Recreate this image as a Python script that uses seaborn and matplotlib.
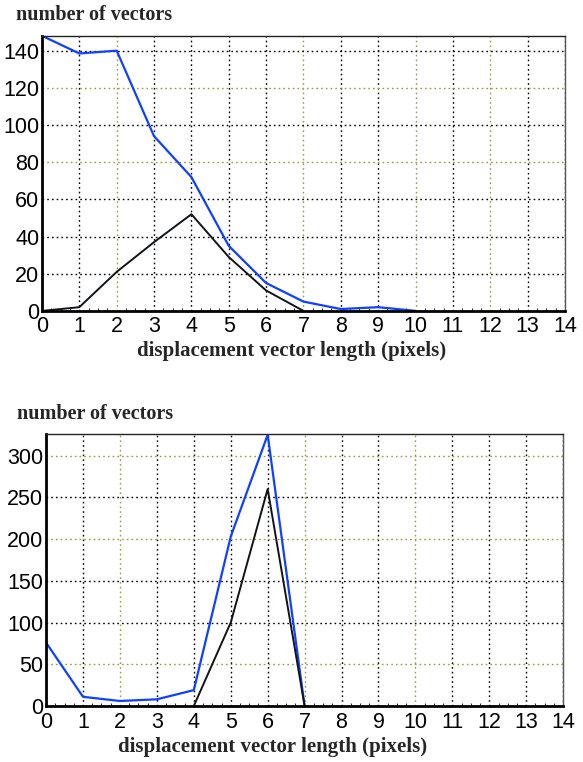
import numpy as np
import pandas as pd
import seaborn as sns
import matplotlib
matplotlib.use("Agg")
import matplotlib.pyplot as plt
from matplotlib.ticker import MultipleLocator

# ---- data ----
top_x = [0, 1, 2, 3, 4, 5, 6, 7, 8, 9, 10]
top_blue = [148, 138.5, 140, 94, 72, 35, 15, 5, 1, 2, 0]
top_black_x = [0, 1, 2, 3, 4, 5, 6, 7]
top_black = [0, 2, 21, 37, 52, 29, 11, 0]

bot_x = [0, 1, 2, 3, 4, 5, 6, 7]
bot_blue = [76, 11, 6, 8, 19, 203, 325, 0]
bot_black_x = [4, 5, 6, 7]
bot_black = [0, 100, 260, 0]

x_ticks = list(range(0, 15))
top_yticks = [0, 20, 40, 60, 80, 100, 120, 140]
bot_yticks = [0, 50, 100, 150, 200, 250, 300]

ylabel = "number of vectors"
xlabel = "displacement vector length (pixels)"

sns.set_theme(style="white")
plt.rcParams['font.family'] = ['Liberation Sans', 'DejaVu Sans']

fig = plt.figure(figsize=(5.83, 7.62), dpi=100)
ax1 = fig.add_axes([0.072, 0.592, 0.897, 0.361])
ax2 = fig.add_axes([0.079, 0.0735, 0.887, 0.357])

BLUE = "#1040ff"
BLACK = "#101418"
OLIVE = "#9a9a40"

def style(ax, ylim, yticks, olive_x, olive_y):
    ax.set_xlim(0, 14)
    ax.set_ylim(0, ylim)
    ax.set_xticks(x_ticks)
    ax.set_yticks(yticks)
    ax.xaxis.set_minor_locator(MultipleLocator(0.25))
    ax.tick_params(axis='both', which='major', labelsize=15.5, length=0, colors='black')
    ax.tick_params(axis='x', which='major', pad=4)
    ax.tick_params(axis='y', which='major', pad=2)
    ax.tick_params(axis='x', which='minor', direction='in', length=2.5, width=0.6, bottom=True, color='black')
    ax.grid(True, which='major', linestyle=(0, (1.2, 2.2)), linewidth=1.0, color='black')
    for v, gl in zip(x_ticks, ax.get_xgridlines()):
        if v in olive_x:
            gl.set_color(OLIVE)
    for v, gl in zip(yticks, ax.get_ygridlines()):
        if v in olive_y:
            gl.set_color(OLIVE)
    ax.set_axisbelow(True)
    ax.spines['left'].set_linewidth(2.0)
    ax.spines['bottom'].set_linewidth(2.0)
    ax.spines['top'].set_linewidth(1.0)
    ax.spines['right'].set_linewidth(1.0)
    ax.spines['left'].set_color('black')
    ax.spines['bottom'].set_color('black')
    ax.spines['top'].set_color('#222222')
    ax.spines['right'].set_color('#555555')
    ax.set_xlabel("")
    ax.set_ylabel("")

sns.lineplot(x=top_x, y=top_blue, ax=ax1, color=BLUE, linewidth=1.6)
sns.lineplot(x=top_black_x, y=top_black, ax=ax1, color=BLACK, linewidth=1.4)
style(ax1, 148, top_yticks, [2, 7, 10, 12], [80, 120])

sns.lineplot(x=bot_x, y=bot_blue, ax=ax2, color=BLUE, linewidth=1.6)
sns.lineplot(x=bot_black_x, y=bot_black, ax=ax2, color=BLACK, linewidth=1.4)
style(ax2, 326, bot_yticks, [2, 7, 10], [50, 200, 300])

serif = ['Liberation Serif', 'DejaVu Serif']
fig.text(16 / 583, 1 - 15 / 762, ylabel, family=serif, fontweight='bold', fontsize=14.5, va='center', ha='left')
fig.text(292 / 583, 1 - 351 / 762, xlabel, family=serif, fontweight='bold', fontsize=15, va='center', ha='center')
fig.text(17 / 583, 1 - 414 / 762, ylabel, family=serif, fontweight='bold', fontsize=14.5, va='center', ha='left')
fig.text(273 / 583, 1 - 747 / 762, xlabel, family=serif, fontweight='bold', fontsize=15, va='center', ha='center')

fig.savefig("out.png", dpi=100, facecolor='white')
